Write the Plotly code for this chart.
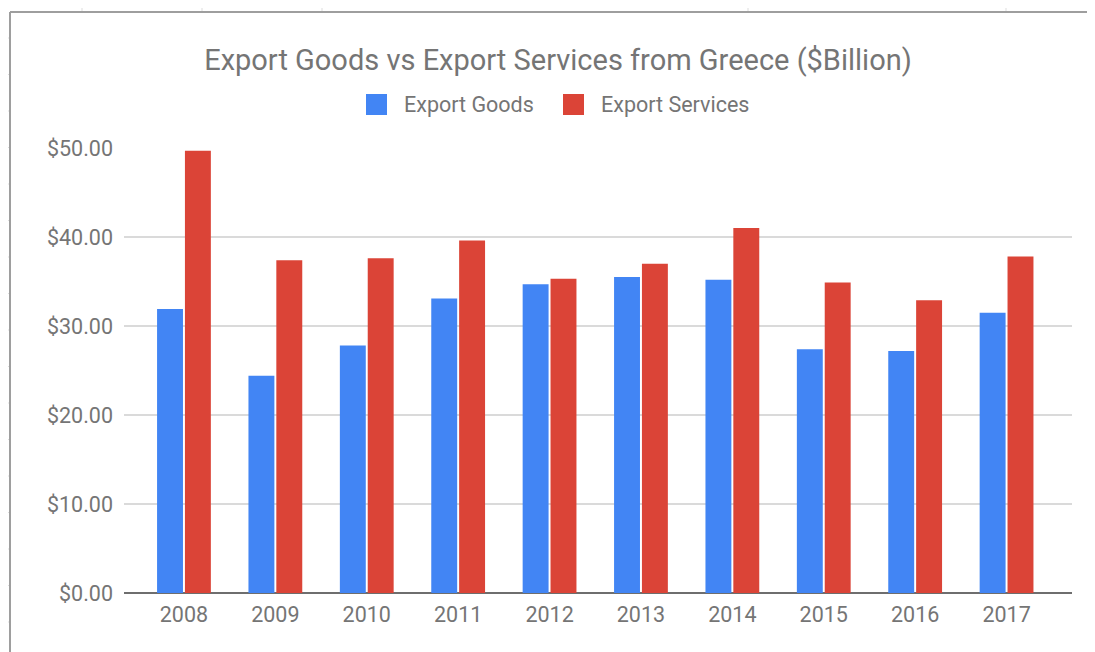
import plotly.graph_objects as go

# -----------------------------
# Data (USD billions)
# -----------------------------
years = ["2008", "2009", "2010", "2011", "2012", "2013", "2014", "2015", "2016", "2017"]
export_goods = [31.9, 24.4, 27.8, 33.1, 34.7, 35.5, 35.2, 27.4, 27.2, 31.5]
export_services = [49.7, 37.4, 37.6, 39.6, 35.3, 37.0, 41.0, 34.9, 32.9, 37.8]
y_ticks = [0, 10, 20, 30, 40, 50]
series_names = ["Export Goods", "Export Services"]
series_colors = ["#4285F4", "#DB4437"]

# page has an 8px body margin, so the figure is 8px smaller
OFF = 8
W, H = 1095, 652
L, R, T, B = 124, 1072, 148, 593


def px(x):
    return (x - L) / (R - L)


def py(y):
    return (B - y) / (B - T)


fig = go.Figure()
fig.add_trace(go.Bar(x=years, y=export_goods, name=series_names[0],
                     marker=dict(color=series_colors[0], line=dict(width=0))))
fig.add_trace(go.Bar(x=years, y=export_services, name=series_names[1],
                     marker=dict(color=series_colors[1], line=dict(width=0))))

# spreadsheet frame around the chart
line_style = dict(color="#9e9e9e", width=2)
shapes = [
    dict(type="line", xref="paper", yref="paper", x0=px(10), x1=px(10), y0=py(12), y1=py(H), line=line_style),
    dict(type="line", xref="paper", yref="paper", x0=px(10), x1=px(W), y0=py(12), y1=py(12), line=line_style),
]
for gx in [82, 202, 322, 748, 1006]:
    shapes.append(dict(type="line", xref="paper", yref="paper", x0=px(gx), x1=px(gx),
                       y0=py(OFF), y1=py(11), line=dict(color="#dddddd", width=1)))
for k in range(17):
    gy = 38 + 36.5 * k
    shapes.append(dict(type="line", xref="paper", yref="paper", x0=px(OFF), x1=px(9),
                       y0=py(gy), y1=py(gy), line=dict(color="#dddddd", width=1)))

# legend drawn by hand (large swatches like the original)
annotations = []
for name, color, sx in zip(series_names, series_colors, [366, 563]):
    shapes.append(dict(type="rect", xref="paper", yref="paper",
                       x0=px(sx), x1=px(sx + 21), y0=py(94), y1=py(115),
                       fillcolor=color, line=dict(width=0)))
    annotations.append(dict(text=name, xref="paper", yref="paper", x=px(sx + 36), y=py(104),
                            xanchor="left", yanchor="middle", showarrow=False,
                            font=dict(size=21.5, color="#757575")))

fig.update_layout(
    width=W - OFF, height=H - OFF,
    margin=dict(l=L - OFF, r=W - R, t=T - OFF, b=H - B),
    paper_bgcolor="white", plot_bgcolor="white",
    font=dict(family="Roboto, Arial, sans-serif", color="#757575"),
    title=dict(text="Export Goods vs Export Services from Greece ($Billion)",
               x=(558 - OFF) / (W - OFF), xanchor="center",
               y=1 - (60 - OFF) / (H - OFF), yanchor="middle",
               font=dict(size=29, color="#757575")),
    showlegend=False,
    barmode="group", bargap=0.39, bargroupgap=0.07,
    shapes=shapes, annotations=annotations,
    xaxis=dict(range=[-0.656, 9.716], showgrid=False, ticks="", showline=False,
               ticklabelstandoff=6, tickfont=dict(size=21.5, color="#757575")),
    yaxis=dict(range=[0, 50], tickvals=y_ticks, tickformat="$.2f",
               showgrid=True, gridcolor="#dadada", gridwidth=1.5,
               zeroline=True, zerolinecolor="#6e6e6e", zerolinewidth=2,
               showline=False, ticks="", ticklabelstandoff=10,
               tickfont=dict(size=21.5, color="#757575")),
)

fig.write_html("out.html", config={"displayModeBar": False})
